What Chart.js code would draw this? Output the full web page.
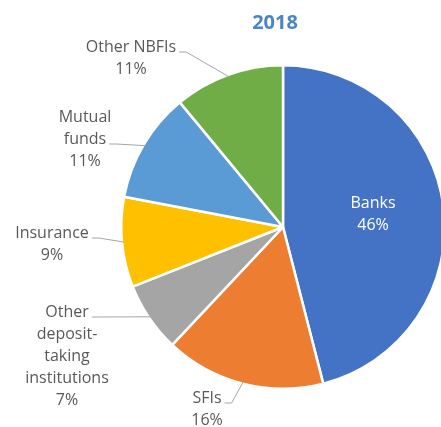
<!DOCTYPE html>
<html>
<head>
<meta charset="utf-8">
<script src="https://cdn.jsdelivr.net/npm/chart.js@4"></script>
<style>
  html, body { margin: 0; padding: 0; background: #fff; overflow: hidden; }
  #wrap { width: 441px; height: 427px; overflow: hidden; position: relative; }
  canvas { position: absolute; left: 0; top: 0; }
</style>
</head>
<body>
<div id="wrap"><canvas id="chart" width="470" height="427"></canvas></div>
<script>
const title = '2018';
const categories = ['Banks', 'SFIs', 'Other deposit-taking institutions', 'Insurance', 'Mutual funds', 'Other NBFIs'];
const shares = [46, 16, 7, 9, 11, 11];
const colors = ['#4472C4', '#ED7D31', '#A5A5A5', '#FFC000', '#5B9BD5', '#70AD47'];

// how each label is broken into lines and where it sits
const labelLines = [['Banks'], ['SFIs'], ['Other', 'deposit-', 'taking', 'institutions'], ['Insurance'], ['Mutual', 'funds'], ['Other NBFIs']];
const labelPos = [
    { x: 373, y: 203, inside: true },
    { x: 207, y: 398, leaderLine: 0 },
    { x: 67, y: 312, leaderLine: 0 },
    { x: 52, y: 233, leaderLine: 0 },
    { x: 85, y: 117, leaderLine: 1 },
    { x: 131, y: 47, leaderLine: 0 }
];

const labelPlugin = {
    id: 'labels',
    afterDatasetsDraw(chart) {
        const ctx = chart.ctx;
        const meta = chart.getDatasetMeta(0);
        ctx.save();
        ctx.font = 'bold 20px "Open Sans"';
        ctx.fillStyle = '#4A86C5';
        ctx.textAlign = 'center';
        ctx.textBaseline = 'middle';
        ctx.fillText(title, 275, 23);

        ctx.font = '16px "Open Sans"';
        const lh = 22;
        meta.data.forEach((arc, i) => {
            const p = labelPos[i];
            const lines = labelLines[i].concat([shares[i] + '%']);
            ctx.fillStyle = p.inside ? '#FFFFFF' : '#595959';
            lines.forEach((t, k) => ctx.fillText(t, p.x, p.y + k * lh));
            if (p.inside) return;
            const t = lines[p.leaderLine];
            const w = ctx.measureText(t).width;
            const sx = p.x + w / 2 + 3;
            const sy = p.y + p.leaderLine * lh + 5;
            const mid = (arc.startAngle + arc.endAngle) / 2;
            const r = arc.outerRadius - 2;
            const ex = arc.x + Math.cos(mid) * r;
            const ey = arc.y + Math.sin(mid) * r;
            ctx.strokeStyle = '#A6A6A6';
            ctx.lineWidth = 1;
            ctx.beginPath();
            ctx.moveTo(sx, sy);
            ctx.lineTo(sx + 7, sy);
            ctx.lineTo(ex, ey);
            ctx.stroke();
        });
        ctx.restore();
    }
};

new Chart(document.getElementById('chart').getContext('2d'), {
    type: 'pie',
    data: {
        labels: categories,
        datasets: [{
            data: shares,
            backgroundColor: colors,
            borderColor: '#FFFFFF',
            borderWidth: 2.5
        }]
    },
    options: {
        responsive: false,
        animation: false,
        devicePixelRatio: 1,
        layout: { padding: { left: 120, top: 64, right: 24, bottom: 37 } },
        plugins: {
            legend: { display: false },
            tooltip: { enabled: false }
        }
    },
    plugins: [labelPlugin]
});
</script>
</body>
</html>
